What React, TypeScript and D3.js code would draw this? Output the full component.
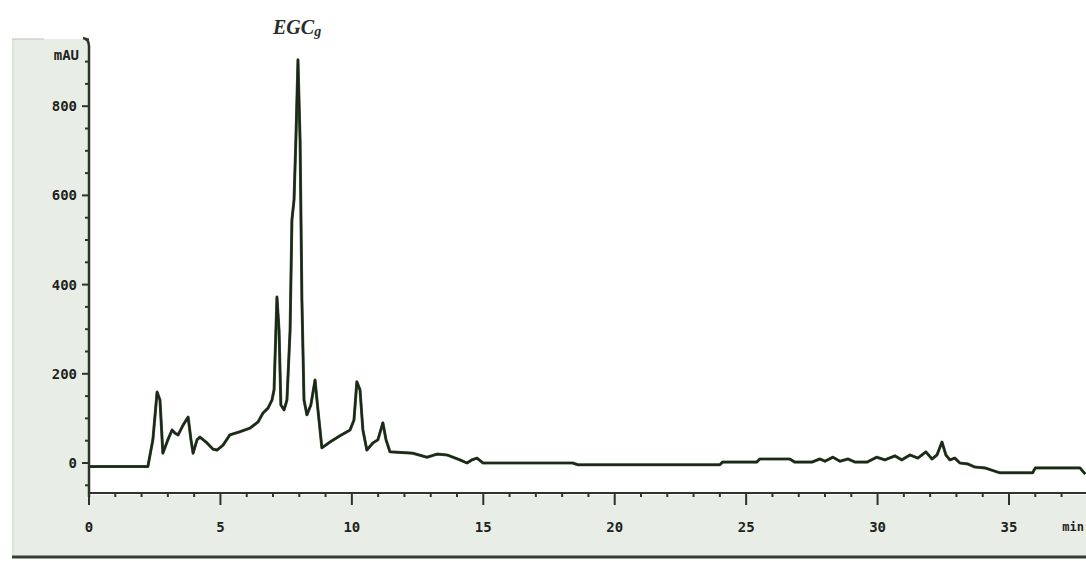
import React from 'react'
import * as d3 from 'd3'

// retention time (min) and detector response (mAU)
const retentionTime = [
  0, 2.24, 2.43, 2.59, 2.7, 2.81, 3.0, 3.16, 3.27, 3.39, 3.58, 3.77, 3.88, 3.96, 4.11, 4.22, 4.49, 4.72, 4.87,
  5.1, 5.36, 5.74, 6.12, 6.43, 6.62, 6.81, 6.96, 7.04, 7.15, 7.23, 7.3, 7.42, 7.53, 7.65, 7.72, 7.8, 7.87, 7.95,
  8.03, 8.1, 8.18, 8.29, 8.44, 8.6, 8.71, 8.86, 9.17, 9.55, 9.93, 10.08, 10.19, 10.31, 10.42, 10.57, 10.8, 10.99,
  11.18, 11.3, 11.45, 12.32, 12.86, 13.24, 13.62, 14.11, 14.38, 14.57, 14.76, 14.99, 18.4, 18.6, 24.0, 24.1, 25.4,
  25.52, 26.66, 26.85, 27.5, 27.8, 28.0, 28.3, 28.57, 28.87, 29.14, 29.6, 29.97, 30.28, 30.66, 30.92, 31.23, 31.53,
  31.84, 32.07, 32.26, 32.45, 32.6, 32.75, 32.94, 33.13, 33.43, 33.7, 34.08, 34.65, 35.9, 36.0, 37.7, 37.9,
]
const absorbance = [
  -8, -8, 52, 159, 141, 22, 52, 74, 67, 63, 85, 103, 52, 22, 52, 58, 45, 31, 29,
  40, 63, 70, 78, 92, 112, 123, 141, 164, 372, 298, 130, 119, 141, 298, 545, 590, 724, 904,
  724, 365, 141, 108, 130, 186, 119, 34, 47, 61, 74, 96, 182, 164, 74, 29, 45, 52,
  90, 52, 25, 22, 13, 20, 18, 7, 0, 7, 11, 0, 0, -4, -4, 2, 2,
  9, 9, 2, 2, 9, 4, 13, 4, 9, 2, 2, 13, 7, 16, 7, 18, 11,
  25, 9, 18, 47, 18, 7, 11, 0, -2, -9, -11, -22, -22, -11, -11, -25,
]

const yTickValues = [0, 200, 400, 600, 800]
const xTickValues = [0, 5, 10, 15, 20, 25, 30, 35]
const peakLabel = 'EGC'
const peakLabelSuffix = 'g'

const W = 1086
const H = 561

const App: React.FC = () => {
  // scales fitted to the original plot frame
  const x = d3.scaleLinear().domain([0, 35]).range([89, 1009])
  const y = d3.scaleLinear().domain([0, 800]).range([463, 106.2])

  const points = retentionTime.map((t, i) => [t, absorbance[i]] as [number, number])
  const line = d3
    .line<[number, number]>()
    .x((d) => x(d[0]))
    .y((d) => y(d[1]))

  const axisY = 493
  const minorY = d3.range(-50, 951, 50)
  const minorX = d3.range(0, 38, 1)
  const axisColor = '#2b3529'
  const labelFont = "'DejaVu Sans Mono', monospace"

  return (
    <svg width={W} height={H} style={{ position: 'absolute', left: 0, top: 0, background: '#fff' }}>
      {/* grey label panels */}
      <rect x={12} y={39} width={x(0) - 12} height={518} fill="#e8eee6" />
      <rect x={12} y={axisY + 2} width={W - 12} height={62} fill="#e8eee6" />
      <line x1={13} x2={13} y1={39} y2={556} stroke="#d3dbd0" />
      <line x1={12} x2={44} y1={39} y2={39} stroke="#b9c2b6" />
      <line x1={12} x2={W} y1={557} y2={557} stroke="#34402f" strokeWidth={3} />

      {/* y axis */}
      <path d={`M${x(0)},${axisY + 4} L${x(0)},46 Q${x(0)},39 ${x(0) - 6},38`} fill="none" stroke={axisColor} strokeWidth={2.5} />
      {minorY.map((v) => (
        <line key={'ym' + v} x1={x(0) - (v % 200 === 0 ? 7 : 4)} x2={x(0)} y1={y(v)} y2={y(v)} stroke={axisColor} strokeWidth={2} />
      ))}
      {yTickValues.map((v) => (
        <text key={'yl' + v} x={77} y={y(v)} dy="0.35em" textAnchor="end" fontFamily={labelFont} fontWeight="bold" fontSize={14} fill="#1e241d">
          {v}
        </text>
      ))}
      <text x={79} y={55} dy="0.35em" textAnchor="end" fontFamily={labelFont} fontWeight="bold" fontSize={14} fill="#1e241d">
        mAU
      </text>

      {/* x axis */}
      <line x1={x(0)} x2={W} y1={axisY} y2={axisY} stroke={axisColor} strokeWidth={2} />
      {minorX.map((t) => (
        <line key={'xm' + t} x1={x(t)} x2={x(t)} y1={axisY} y2={axisY + (t % 5 === 0 ? 12 : 4)} stroke={axisColor} strokeWidth={2} />
      ))}
      {xTickValues.map((t) => (
        <text key={'xl' + t} x={x(t)} y={527} dy="0.35em" textAnchor="middle" fontFamily={labelFont} fontWeight="bold" fontSize={14} fill="#1e241d">
          {t}
        </text>
      ))}
      <text x={1084} y={527} dy="0.35em" textAnchor="end" fontFamily={labelFont} fontWeight="bold" fontSize={12} fill="#1e241d">
        min
      </text>

      {/* chromatogram trace */}
      <path d={line(points) ?? ''} fill="none" stroke="#3f6a33" strokeWidth={3} strokeLinejoin="round" />
      <path d={line(points) ?? ''} fill="none" stroke="#1f251d" strokeWidth={2.2} strokeLinejoin="round" />

      {/* peak annotation */}
      <text x={273} y={34} fontFamily="'Liberation Serif', serif" fontStyle="italic" fontWeight="bold" fontSize={20} fill="#2a2a2a">
        {peakLabel}
        <tspan fontSize={14} dy={2}>
          {peakLabelSuffix}
        </tspan>
      </text>
    </svg>
  )
}

export default App
